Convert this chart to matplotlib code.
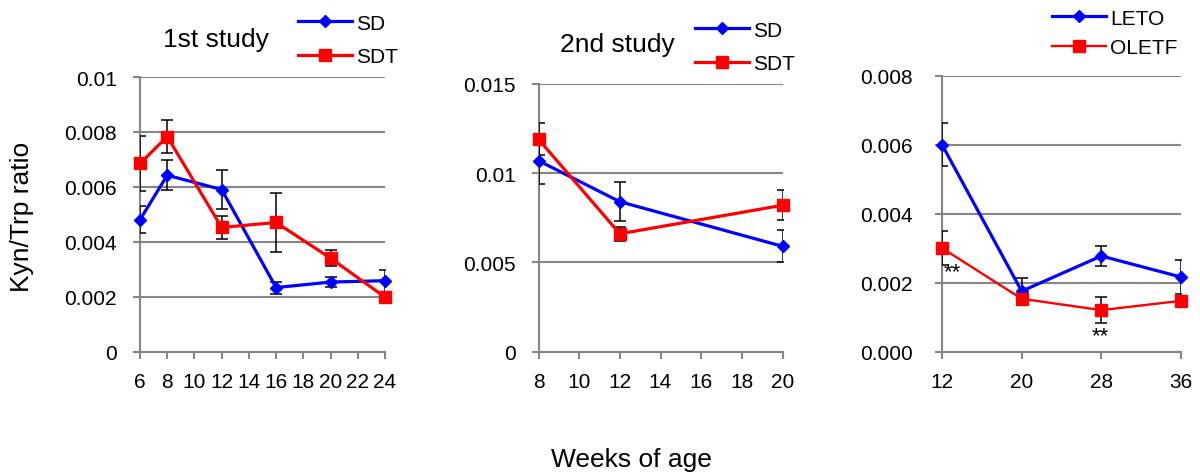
import matplotlib
matplotlib.use("Agg")
import matplotlib.pyplot as plt

plt.rcParams['font.family'] = ['Liberation Sans', 'DejaVu Sans']

# ---- data ----
weeks1 = [6, 8, 12, 16, 20, 24]
sd1 = [0.0048, 0.00642, 0.0059, 0.00233, 0.00253, 0.00258]
sd1_err = [0.0005, 0.00055, 0.0007, 0.00022, 0.00018, 0.0004]
sdt1 = [0.00685, 0.00783, 0.00452, 0.0047, 0.0034, 0.00198]
sdt1_err = [0.001, 0.0006, 0.00043, 0.00106, 0.0003, 0.0001]

weeks2 = [8, 12, 20]
sd2 = [0.0107, 0.0084, 0.0059]
sd2_err = [0.0013, 0.00108, 0.0009]
sdt2 = [0.0119, 0.0066, 0.0082]
sdt2_err = [0.0009, 0.0004, 0.00085]

weeks3 = [12, 20, 28, 36]
leto = [0.006, 0.00175, 0.00277, 0.00216]
leto_err = [0.00063, 0.00038, 0.0003, 0.00048]
oletf = [0.003, 0.00153, 0.0012, 0.00147]
oletf_err = [0.0005, 0.00013, 0.00037, 0.00008]

yticks1 = [0, 0.002, 0.004, 0.006, 0.008, 0.01]
ylabels1 = ["0", "0.002", "0.004", "0.006", "0.008", "0.01"]
yticks2 = [0, 0.005, 0.01, 0.015]
ylabels2 = ["0", "0.005", "0.01", "0.015"]
yticks3 = [0, 0.002, 0.004, 0.006, 0.008]
ylabels3 = ["0.000", "0.002", "0.004", "0.006", "0.008"]
xticks1 = list(range(6, 25, 2))
xticks2 = list(range(8, 21, 2))
xticks3 = [12, 20, 28, 36]

# significance markers (x, y) for OLETF
sig_x = [13.05, 27.87]
sig_y = [0.00232, 0.00046]

GRAY = '#868686'
BLUE = '#0000FF'
RED = '#FF0000'
W, H = 1200, 477
TICK_FS = 15

fig = plt.figure(figsize=(12, 4.77), dpi=100)


def px_axes(left, right, top, bottom):
    return fig.add_axes([left / W, 1 - bottom / H, (right - left) / W, (bottom - top) / H])


def style(ax, xlim, xticks, ylim, yticks, ylabels, ypad):
    ax.set_xlim(*xlim)
    ax.set_ylim(*ylim)
    ax.set_xticks(xticks)
    ax.set_xticklabels([str(t) for t in xticks])
    ax.set_yticks(yticks)
    ax.set_yticklabels(ylabels)
    for s in ['top', 'right']:
        ax.spines[s].set_visible(False)
    for s in ['left', 'bottom']:
        ax.spines[s].set_color(GRAY)
        ax.spines[s].set_linewidth(1.5)
    ax.tick_params(axis='both', direction='out', length=5, width=1.5, color=GRAY,
                   labelsize=TICK_FS, labelcolor='black')
    ax.tick_params(axis='y', pad=ypad)
    ax.tick_params(axis='x', pad=10)
    ax.yaxis.grid(True, color=GRAY, linewidth=1.5)
    ax.set_axisbelow(True)


def series(ax, x, y, err, color, marker, ms, lw, label, z):
    ax.errorbar(x, y, yerr=err, fmt='none', ecolor='black', elinewidth=1.1,
                capsize=4, capthick=1.1, zorder=z)
    line, = ax.plot(x, y, color=color, marker=marker, markersize=ms, linewidth=lw,
                    label=label, zorder=z + 0.5, clip_on=False)
    return line


# Panel 1
ax1 = px_axes(140, 385, 78, 352.5)
style(ax1, (6, 24), xticks1, (0, 0.01), yticks1, ylabels1, 11.5)
l1a = series(ax1, weeks1, sd1, sd1_err, BLUE, 'D', 6, 2.3, 'SD', 3)
l1b = series(ax1, weeks1, sdt1, sdt1_err, RED, 's', 8, 2.3, 'SDT', 4)

# Panel 2
ax2 = px_axes(538.5, 782.5, 85, 352.5)
style(ax2, (8, 20), xticks2, (0, 0.015), yticks2, ylabels2, 11.5)
l2a = series(ax2, weeks2, sd2, sd2_err, BLUE, 'D', 6, 2.3, 'SD', 3)
l2b = series(ax2, weeks2, sdt2, sdt2_err, RED, 's', 8, 2.3, 'SDT', 4)

# Panel 3
ax3 = px_axes(942, 1181, 76.7, 352.5)
style(ax3, (12, 36), xticks3, (0, 0.008), yticks3, ylabels3, 16)
l3a = series(ax3, weeks3, leto, leto_err, BLUE, 'D', 6, 2.3, 'LETO', 3)
l3b = series(ax3, weeks3, oletf, oletf_err, RED, 's', 8.4, 1.7, 'OLETF', 4)
for sx, sy in zip(sig_x, sig_y):
    ax3.text(sx, sy, '**', ha='center', va='center', fontsize=16, zorder=6)


def legend(handles, x, y1, y2):
    spacing = (y2 - y1)
    fs_px = TICK_FS * 100 / 72
    ls = (spacing - 1.117 * fs_px) / fs_px
    leg = fig.legend(handles=handles, loc='center left',
                     bbox_to_anchor=(x / W, 1 - (y1 + y2) / 2 / H),
                     frameon=False, fontsize=TICK_FS, handlelength=2.6,
                     handletextpad=0.2, labelspacing=ls, borderpad=0,
                     borderaxespad=0)
    return leg


legend([l1a, l1b], 298, 22, 60)
legend([l2a, l2b], 695, 29, 67)
legend([l3a, l3b], 1052, 17, 51)

# Titles and axis labels
fig.text(215.5 / W, 1 - 47 / H, '1st study', ha='center', va='baseline', fontsize=19)
fig.text(617 / W, 1 - 52 / H, '2nd study', ha='center', va='baseline', fontsize=19)
fig.text(22 / W, 1 - 217 / H, 'Kyn/Trp ratio', ha='center', va='center',
         rotation=90, fontsize=19)
fig.text(631 / W, 1 - 467 / H, 'Weeks of age', ha='center', va='baseline', fontsize=19)

fig.savefig('out.png', dpi=100)
